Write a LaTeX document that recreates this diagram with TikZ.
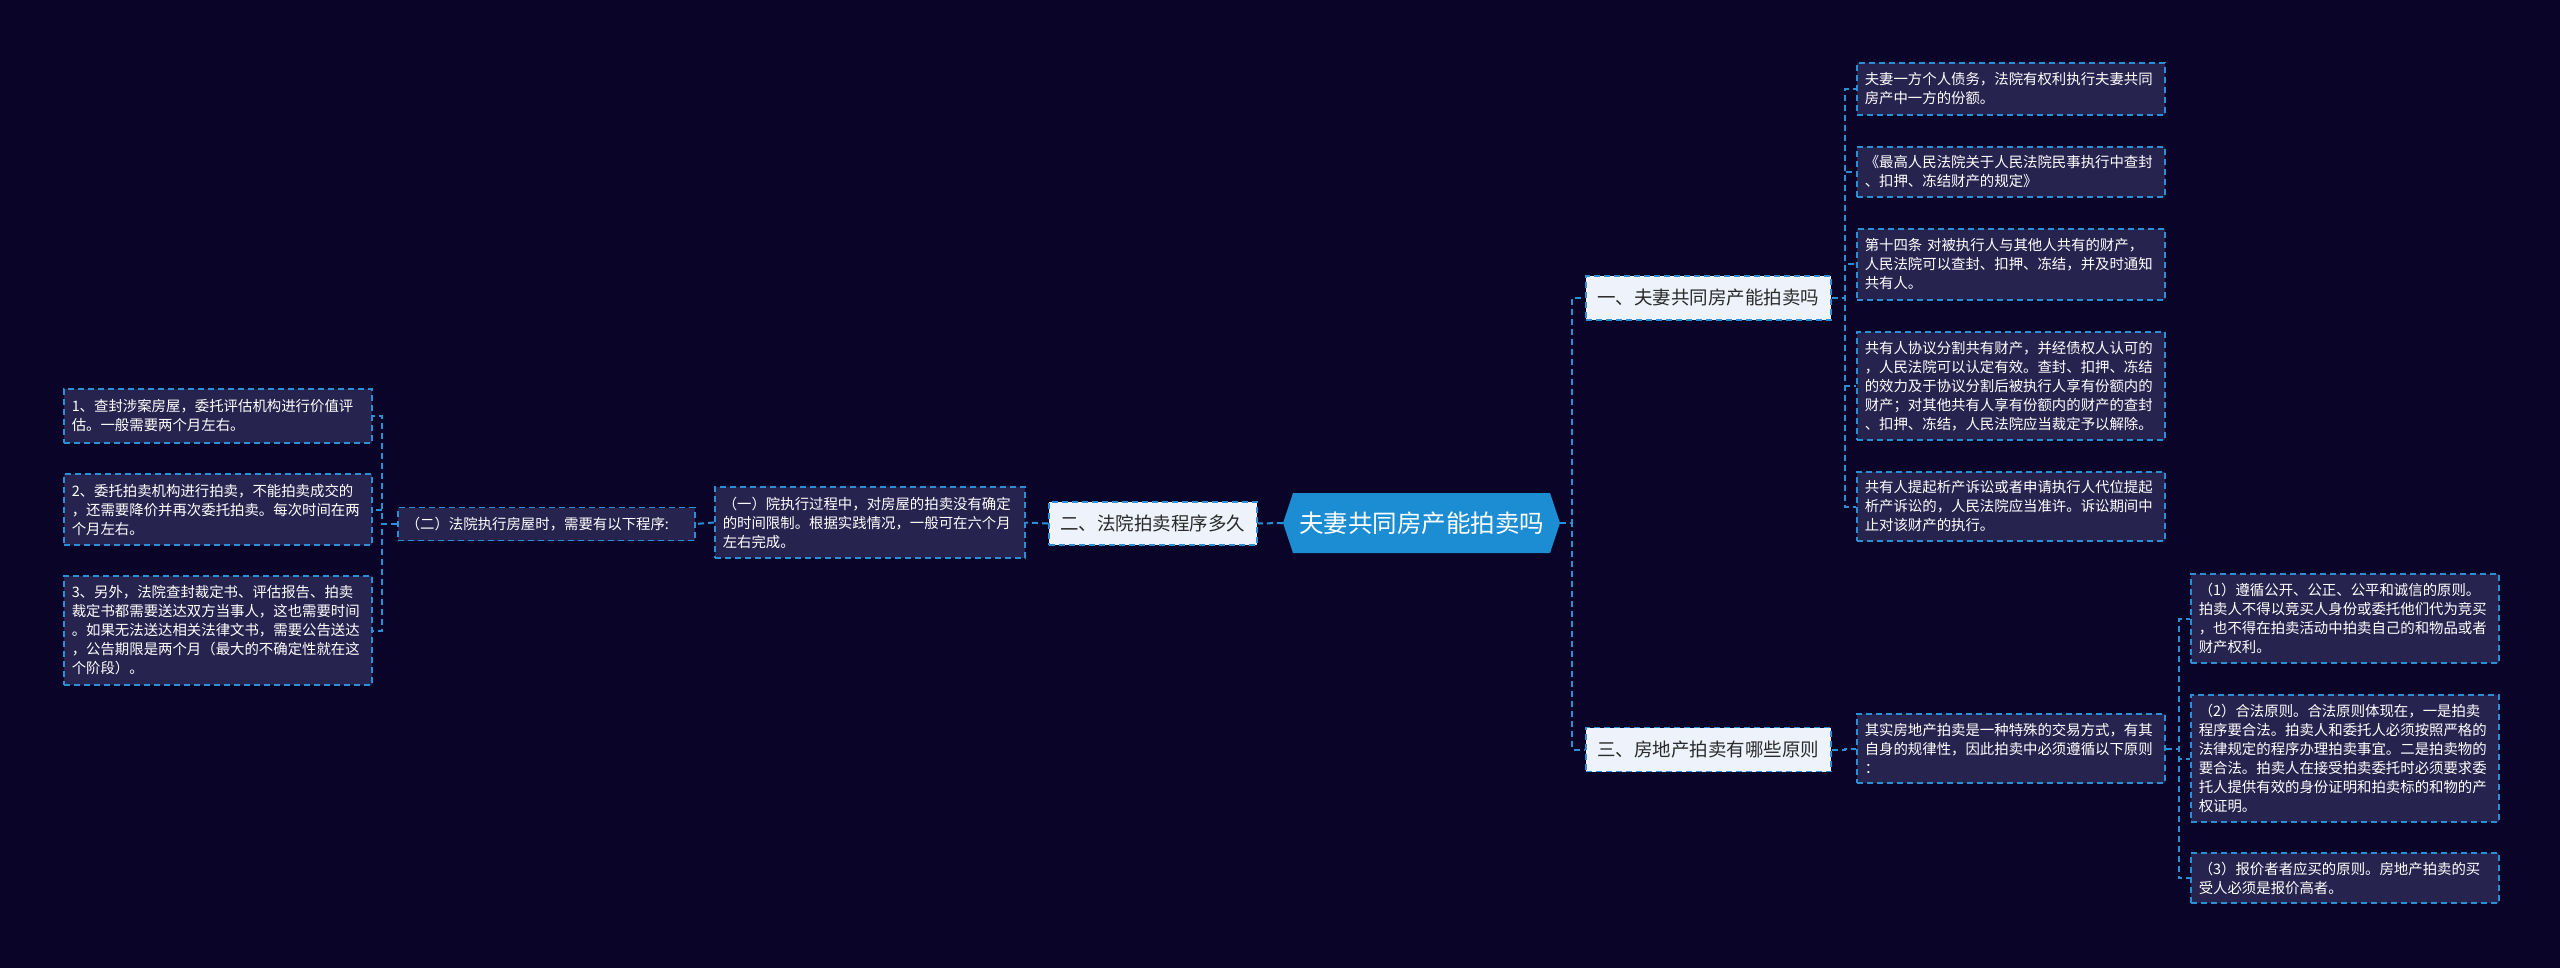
\documentclass[tikz,border=0pt]{standalone}
\usepackage{fontspec}
\newfontfamily\cjk{Noto Sans CJK SC}
\definecolor{bgc}{HTML}{0A0528}
\definecolor{leaffill}{HTML}{27234F}
\definecolor{lineblue}{HTML}{2B8FD6}
\definecolor{ctrblue}{HTML}{1C8DD3}
\definecolor{branchfill}{HTML}{EEF3FB}
\definecolor{branchtext}{HTML}{2A2A2A}
\tikzset{
  conn/.style={draw=lineblue, line width=2pt, dash pattern=on 6pt off 4pt},
  leaf/.style={draw=lineblue, line width=1.5pt, dash pattern=on 6pt off 4pt,
    fill=leaffill, text=white, font=\cjk\fontsize{14.4}{19}\selectfont,
    align=left, text width=292pt, inner xsep=8pt, inner ysep=0pt, anchor=west},
  branch/.style={draw=lineblue, line width=1.5pt, dash pattern=on 6pt off 4pt,
    fill=branchfill, text=branchtext, font=\cjk\fontsize{18.5}{22}\selectfont,
    inner xsep=0pt, inner ysep=0pt, anchor=west, minimum height=44pt},
  ctrnode/.style={text=white, font=\cjk\fontsize{24.5}{28}\selectfont,
    inner sep=0pt, minimum width=277pt, minimum height=60pt}
}
\begin{document}
\begin{tikzpicture}[x=1pt,y=-1pt]
\useasboundingbox (0,0) rectangle (2560,968);
\fill[bgc] (0,0) rectangle (2560,968);

% center hexagon
\fill[ctrblue] (1293,493) -- (1550,493) -- (1560,523) -- (1550,553) -- (1293,553) -- (1283,523) -- cycle;
\node[ctrnode] (ctr) at (1421.5,523) {夫妻共同房产能拍卖吗};

% branches
\node[branch, minimum width=245pt] (B1) at (1585,298) {一、夫妻共同房产能拍卖吗};
\node[branch, minimum width=208pt, minimum height=43pt] (B2) at (1048,523.5) {二、法院拍卖程序多久};
\node[branch, minimum width=245pt] (B3) at (1585,749.5) {三、房地产拍卖有哪些原则};

% branch 1 leaves
\node[leaf, minimum height=52pt] (R1) at (1856,89) {夫妻一方个人债务，法院有权利执行夫妻共同\\房产中一方的份额。};
\node[leaf, minimum height=50pt] (R2) at (1856,172) {《最高人民法院关于人民法院民事执行中查封\\、扣押、冻结财产的规定》};
\node[leaf, minimum height=71pt] (R3) at (1856,264.5) {第十四条 对被执行人与其他人共有的财产，\\人民法院可以查封、扣押、冻结，并及时通知\\共有人。};
\node[leaf, minimum height=108pt] (R4) at (1856,386) {共有人协议分割共有财产，并经债权人认可的\\，人民法院可以认定有效。查封、扣押、冻结\\的效力及于协议分割后被执行人享有份额内的\\财产；对其他共有人享有份额内的财产的查封\\、扣押、冻结，人民法院应当裁定予以解除。};
\node[leaf, minimum height=69pt] (R5) at (1856,506.5) {共有人提起析产诉讼或者申请执行人代位提起\\析产诉讼的，人民法院应当准许。诉讼期间中\\止对该财产的执行。};

% branch 3 leaves
\node[leaf, minimum height=69pt] (S) at (1856,748.5) {其实房地产拍卖是一种特殊的交易方式，有其\\自身的规律性，因此拍卖中必须遵循以下原则\\：};
\node[leaf, minimum height=89pt] (A) at (2190,618.5) {（1）遵循公开、公正、公平和诚信的原则。\\拍卖人不得以竞买人身份或委托他们代为竞买\\，也不得在拍卖活动中拍卖自己的和物品或者\\财产权利。};
\node[leaf, minimum height=127pt] (B) at (2190,758.5) {（2）合法原则。合法原则体现在，一是拍卖\\程序要合法。拍卖人和委托人必须按照严格的\\法律规定的程序办理拍卖事宜。二是拍卖物的\\要合法。拍卖人在接受拍卖委托时必须要求委\\托人提供有效的身份证明和拍卖标的和物的产\\权证明。};
\node[leaf, minimum height=50pt] (C) at (2190,878) {（3）报价者者应买的原则。房地产拍卖的买\\受人必须是报价高者。};

% branch 2 chain
\node[leaf, minimum height=71pt, text width=294pt] (M1) at (714,522.5) {（一）院执行过程中，对房屋的拍卖没有确定\\的时间限制。根据实践情况，一般可在六个月\\左右完成。};
\node[leaf, minimum height=33pt, text width=281pt] (M2) at (397,524) {（二）法院执行房屋时，需要有以下程序:};
\node[leaf, minimum height=54pt] (L1) at (63,416) {1、查封涉案房屋，委托评估机构进行价值评\\估。一般需要两个月左右。};
\node[leaf, minimum height=71pt] (L2) at (63,509.5) {2、委托拍卖机构进行拍卖，不能拍卖成交的\\，还需要降价并再次委托拍卖。每次时间在两\\个月左右。};
\node[leaf, minimum height=109pt] (L3) at (63,630.5) {3、另外，法院查封裁定书、评估报告、拍卖\\裁定书都需要送达双方当事人，这也需要时间\\。如果无法送达相关法律文书，需要公告送达\\，公告期限是两个月（最大的不确定性就在这\\个阶段）。};

% connectors
\draw[conn] (ctr.east) -- ++(12,0) |- (B1.west);
\draw[conn] (ctr.east) -- ++(12,0) |- (B3.west);
\draw[conn] (ctr.west) -- (B2.east);
\foreach \n in {R1,R2,R3,R4,R5}{
  \draw[conn] (B1.east) -- ++(13,0) |- (\n.west);
}
\draw[conn] (B3.east) -- ++(13,0) |- (S.west);
\foreach \n in {A,B,C}{
  \draw[conn] (S.east) -- ++(13,0) |- (\n.west);
}
\draw[conn] (B2.west) -- (M1.east);
\draw[conn] (M1.west) -- (M2.east);
\foreach \n in {L1,L2,L3}{
  \draw[conn] (M2.west) -- ++(-15,0) |- (\n.east);
}
\end{tikzpicture}
\end{document}
